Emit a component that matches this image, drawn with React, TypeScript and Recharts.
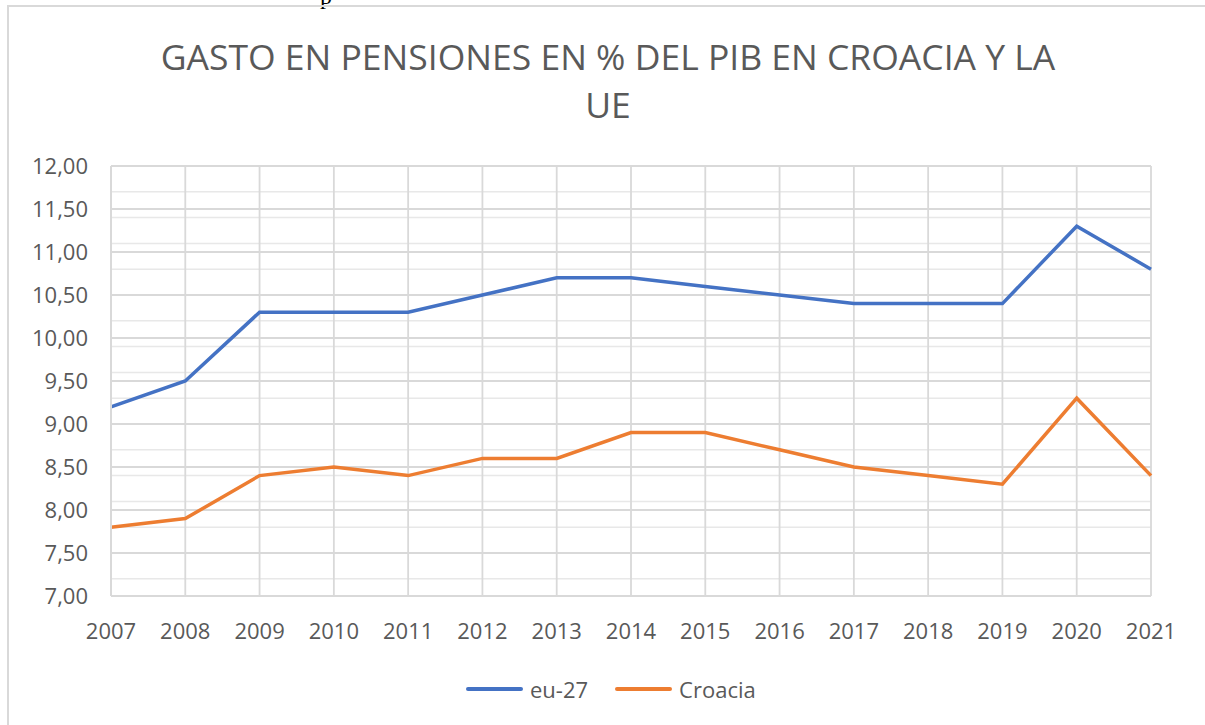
import React from "react";
import { LineChart, Line, XAxis, YAxis, CartesianGrid, Legend } from "recharts";

const years = ["2007", "2008", "2009", "2010", "2011", "2012", "2013", "2014", "2015", "2016", "2017", "2018", "2019", "2020", "2021"];
const eu27 = [9.2, 9.5, 10.3, 10.3, 10.3, 10.5, 10.7, 10.7, 10.6, 10.5, 10.4, 10.4, 10.4, 11.3, 10.8];
const croacia = [7.8, 7.9, 8.4, 8.5, 8.4, 8.6, 8.6, 8.9, 8.9, 8.7, 8.5, 8.4, 8.3, 9.3, 8.4];
const yTicks = [7, 7.5, 8, 8.5, 9, 9.5, 10, 10.5, 11, 11.5, 12];
// minor gridlines every 0.1 between the labelled ticks
const minorTicks = Array.from({ length: 51 }, (_, i) => 7 + i / 10);

const data = years.map((year, i) => ({ year, eu27: eu27[i], croacia: croacia[i] }));

const FONT = "'Open Sans', sans-serif";
const TEXT = "#595959";

const legendItems = [
  { name: "eu-27", color: "#4472C4" },
  { name: "Croacia", color: "#ED7D31" },
];

const LegendContent = () => (
  <div style={{ display: "flex", alignItems: "center", paddingLeft: 466, height: 30, fontFamily: FONT, fontSize: 22, color: TEXT }}>
    {legendItems.map((item, i) => (
      <div key={item.name} style={{ display: "flex", alignItems: "center", marginRight: i === 0 ? 27 : 0 }}>
        <div style={{ width: 57, height: 3.5, background: item.color, borderRadius: 2, marginRight: 7 }} />
        <span>{item.name}</span>
      </div>
    ))}
  </div>
);

export default function App() {
  return (
    <div style={{ position: "absolute", left: 0, top: 0, width: 1205, height: 725, overflow: "hidden", background: "#fff" }}>
      <span style={{ position: "absolute", left: 320, top: -17, fontFamily: "'Liberation Serif', serif", fontSize: 24, color: "#000" }}>p</span>
      <div style={{ position: "absolute", left: 7, top: 5, width: 1400, height: 900, border: "2px solid #d9d9d9" }} />
      <div
        style={{
          position: "absolute",
          left: 0,
          top: 32,
          width: 1216,
          textAlign: "center",
          fontFamily: FONT,
          fontSize: 35.5,
          lineHeight: "48px",
          color: TEXT,
        }}
      >
        GASTO EN PENSIONES EN % DEL PIB EN CROACIA Y LA
        <br />
        UE
      </div>
      <div style={{ position: "absolute", left: 0, top: 0 }}>
        <LineChart width={1205} height={725} data={data} margin={{ top: 166, right: 54, left: 0, bottom: 69 }}>
          <CartesianGrid horizontalValues={minorTicks} vertical={false} stroke="#e8e8e8" strokeWidth={1.5} />
          <CartesianGrid horizontalValues={yTicks} stroke="#d9d9d9" strokeWidth={1.8} />
          <XAxis
            dataKey="year"
            height={30}
            axisLine={{ stroke: "#d9d9d9", strokeWidth: 2 }}
            tickLine={false}
            tickSize={0}
            tickMargin={27}
            interval={0}
            tick={{ fill: TEXT, fontSize: 22, fontFamily: FONT }}
          />
          <YAxis
            width={111}
            domain={[7, 12]}
            ticks={yTicks}
            axisLine={{ stroke: "#d9d9d9", strokeWidth: 2 }}
            tickLine={false}
            tickSize={0}
            tickMargin={23}
            tickFormatter={(v: number) => v.toFixed(2).replace(".", ",")}
            tick={{ fill: TEXT, fontSize: 22, fontFamily: FONT }}
          />
          <Legend content={<LegendContent />} wrapperStyle={{ top: 674, bottom: "auto", left: 0, width: 1205, height: 30 }} />
          <Line type="linear" dataKey="eu27" name="eu-27" stroke="#4472C4" strokeWidth={3.5} dot={false} isAnimationActive={false} />
          <Line type="linear" dataKey="croacia" name="Croacia" stroke="#ED7D31" strokeWidth={3.5} dot={false} isAnimationActive={false} />
        </LineChart>
      </div>
    </div>
  );
}
